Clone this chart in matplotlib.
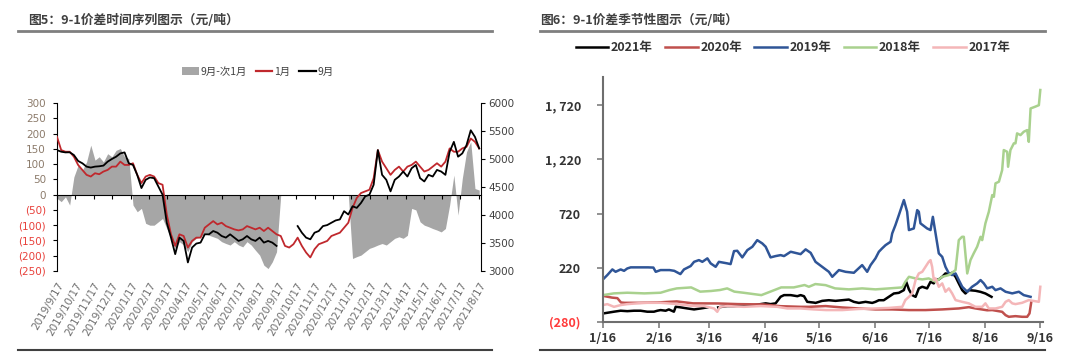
import numpy as np
import pandas as pd
import matplotlib
matplotlib.use("Agg")
import matplotlib.pyplot as plt
import matplotlib.dates as mdates
from matplotlib.lines import Line2D
from matplotlib.patches import Patch

nan = np.nan
CJK = "Noto Sans CJK SC"
NARROW = ["Liberation Sans Narrow", "DejaVu Sans"]
plt.rcParams["font.family"] = [CJK, "DejaVu Sans"]

# ---------------- Figure 5 data (weekly from 2019/9/17) ----------------
start_date = "2019-09-17"
spread_9_1 = [-12, -23, -7, -34, 58, 96, 80, 107, 162, 113,
              124, 107, 134, 124, 145, 151, 124, 118, -34, -56,
              -45, -94, -100, -100, -89, -78, -111, -143, -176, -154,
              -165, -187, -154, -143, -138, -127, -133, -138, -143, -154,
              -160, -165, -154, -165, -171, -154, -165, -182, -198, -231,
              -242, -220, -187, 0, 0, 0, 0, 0, 0, 0,
              0, 0, 0, 0, 0, 0, 0, 0, 0, 0,
              -209, -203, -198, -187, -176, -171, -165, -160, -165, -154,
              -143, -138, -143, -133, -45, -50, -89, -100, -105, -111,
              -116, -122, -111, -34, 64, -67, 53, 140, 173, 20, 15]
price_jan = [5395, 5159, 5130, 5130, 5041, 4894, 4805, 4717, 4687, 4746,
             4728, 4776, 4805, 4864, 4864, 4953, 4894, 4894, 4924, 4717,
             4570, 4687, 4717, 4687, 4570, 4540, 4009, 3655, 3448, 3655,
             3625, 3419, 3537, 3596, 3596, 3773, 3832, 3891, 3832, 3862,
             3802, 3773, 3743, 3725, 3743, 3802, 3773, 3743, 3773, 3714,
             3773, 3714, 3655, 3625, 3448, 3419, 3478, 3596, 3448, 3330,
             3242, 3389, 3478, 3507, 3537, 3625, 3655, 3684, 3773, 3862,
             4127, 4304, 4392, 4422, 4451, 4658, 5159, 4953, 4835, 4717,
             4805, 4864, 4776, 4864, 4894, 4953, 4864, 4776, 4805, 4864,
             4924, 4864, 4953, 5189, 5130, 5130, 5189, 5218, 5366, 5307, 5189]
price_sep = [5159, 5130, 5118, 5120, 5071, 4965, 4924, 4864, 4847, 4864,
             4870, 4882, 4953, 5000, 5041, 5100, 5118, 4924, 4894, 4717,
             4481, 4628, 4670, 4658, 4510, 4363, 3862, 3596, 3301, 3596,
             3537, 3153, 3419, 3490, 3507, 3655, 3655, 3714, 3684, 3625,
             3596, 3655, 3596, 3537, 3566, 3625, 3566, 3537, 3596, 3507,
             3537, 3507, 3448, nan, nan, nan, nan, 3802, 3684, 3596,
             3566, 3684, 3714, 3802, 3820, 3862, 3903, 3921, 4068, 4009,
             4156, 4127, 4215, 4333, 4363, 4540, 5159, 4717, 4628, 4422,
             4628, 4687, 4776, 4687, 4835, 4894, 4658, 4599, 4717, 4687,
             4805, 4776, 4717, 5129, 5306, 5041, 5100, 5248, 5513, 5395, 5189]
legend5 = ["9月-次1月", "1月", "9月"]

# ---------------- Figure 6 data (days after 1/16) ----------------
d2021 = [0.2, 2.4, 6.1, 9.8, 13.5, 17.2, 20.9, 24.6, 28.3, 30.2,
         32, 34.8, 36.6, 39.4, 40.4, 43.1, 46.9, 50.6, 54.3, 58,
         60, 64, 69, 72.8, 78.3, 83.9, 87.6, 90.4, 93.1, 95.9,
         98.7, 100.6, 104.3, 108, 109.8, 111.7, 113.5, 117.2, 118.1, 121.8,
         125.5, 129.2, 132.9, 136.6, 139.4, 142.2, 145.9, 149.6, 151.4, 153.3,
         156, 158.8, 161.6, 164.4, 167.2, 168.5, 170, 171.8, 173.7, 175.5,
         177.4, 180.1, 182, 183.8, 184.8, 186.6, 188.5, 190.3, 192.2, 194,
         195.9, 197.7, 199.6, 201.4, 203.3, 207, 209.8, 212.5, 215.9]
v2021 = [-201, -195, -185, -176, -180, -176, -176, -185, -185, -176,
         -170, -176, -164, -185, -139, -145, -155, -164, -155, -145,
         nan, -145, -133, -133, -127, -124, -115, -108, -115, -108,
         -47, -32, -32, -42, -32, -42, -94, -101, -104, -85,
         -79, -85, -79, -73, -94, -104, -94, -104, -94, -79,
         -79, -48, -17, -11, 14, 91, 20, -32, -48, 30,
         45, 30, 91, 76, 107, 113, 137, 168, 162, 174,
         137, 76, 14, -17, 14, 8, -2, -17, -48]
d2020 = [1, 5, 8, 10, 12, 20, 30, 41, 50, 64,
         75, 89, 98.5, 110, 114.4, 123.7, 133, 142.2, 151.4, 160.7,
         170, 179.2, 188.5, 197.7, 203.3, 207, 213.5, 216.3, 221.8, 223.7,
         225.5, 229.2, 232.9, 235.7, 237, 238]
v2020 = [-42, -55, -60, -100, -103, -103, -100, -90, -108, -109,
         -115, -118, -134, -140, -140, -133, -146, -155, -164, -164,
         -170, -170, -164, -155, -143, -155, -172, -170, -186, -217,
         -232, -226, -232, -232, -201, -94]
d2019 = [0, 2.4, 5.2, 7, 9.8, 11.7, 13.5, 15.4, 20, 25,
         28, 29.3, 32, 37, 39.6, 43, 45, 48.7, 50.6, 53.3,
         55.2, 58, 59.8, 62.6, 64.4, 69, 70.9, 72.8, 74.6, 77.4,
         80.2, 83, 85.7, 88.5, 90.4, 93.1, 95.9, 98.7, 100.6, 104.3,
         109.8, 112.6, 115.4, 118.1, 121.8, 125.5, 127.4, 131.1, 134.8, 139.4,
         144, 146.8, 148.7, 151.4, 153.3, 155.1, 157, 159.8, 160.7, 162.5,
         164.4, 167.2, 169, 170, 172.7, 174.6, 175.5, 176.4, 180.1, 182,
         183.3, 184.8, 186.6, 188.5, 190.3, 192.2, 194, 195.9, 197.7, 199.6,
         202.4, 205.1, 207.9, 209.8, 211.6, 213.5, 216.3, 218.1, 220.9, 223.7,
         227.4, 231.1, 233.8, 237.6]
v2019 = [113, 153, 205, 183, 205, 192, 214, 224, 224, 224,
         222, 183, 199, 199, 192, 162, 205, 236, 275, 291,
         275, 307, 261, 229, 275, 261, 254, 374, 377, 316,
         383, 414, 475, 445, 414, 316, 328, 337, 328, 368,
         346, 390, 358, 275, 229, 183, 137, 199, 183, 174,
         245, 183, 245, 307, 368, 399, 429, 460, 537, 614,
         706, 845, 737, 568, 583, 752, 737, 630, 583, 568,
         690, 537, 353, 321, 229, 168, 153, 168, 107, 45,
         -1, 45, 76, 107, 76, 30, 45, 14, 30, -1,
         -16, -1, -32, -48]
d2018 = [0, 6, 13.5, 23, 32, 37, 41, 49, 54, 60,
         65, 69, 73, 78, 88, 93, 99, 106, 112, 114.4,
         118, 123.7, 129, 136.6, 144, 151.4, 159, 166.3, 168, 170,
         173.7, 177.4, 181, 184.8, 188.5, 192.2, 195.9, 197.7, 199.5, 200.5,
         202.4, 204.2, 206, 207.9, 209.8, 210.7, 212.5, 214.4, 216.3, 217.2,
         218.1, 220, 221.8, 222.7, 224.6, 225.1, 226.4, 228.3, 229.2, 230.1,
         232, 233.8, 235.7, 236.6, 237.6, 240, 242.2, 243]
v2018 = [-32, -16, -10, -16, -10, 15, 30, 39, 0, 6,
         15, 30, 0, -10, -32, 0, 39, 39, 61, 45,
         70, 60, 30, 21, 30, 21, 30, 39, 91, 137,
         122, 113, 122, 91, 137, 153, 199, 475, 506, 506,
         168, 291, 353, 414, 506, 475, 630, 737, 891, 875,
         999, 1014, 1121, 1306, 1290, 1152, 1306, 1368, 1368, 1460,
         1444, 1475, 1490, 1382, 1690, 1705, 1720, 1860]
d2017 = [0, 2.4, 6.1, 9.8, 13.5, 19, 24.6, 32, 41.3, 50.6,
         56.1, 61.7, 63.5, 65, 69, 78.3, 87.6, 96.9, 102.4, 109.8,
         117.2, 124, 133, 142, 151.4, 159, 166.3, 168, 170, 171.8,
         173.7, 175.5, 177.4, 179.2, 181, 182, 182.9, 183.8, 184.8, 186.6,
         188.5, 190.3, 192.2, 194, 195.9, 199.6, 203.3, 207, 210.7, 212.5,
         214.4, 218.1, 221.8, 223.7, 225.5, 227.4, 229.2, 232.9, 236.6, 242.2,
         243]
v2017 = [-124, -115, -140, -124, -115, -108, -103, -103, -115, -133,
         -133, -155, -186, -140, -133, -140, -133, -140, -155, -155,
         -164, -170, -170, -160, -155, -150, -140, -78, -48, -16,
         107, 168, 183, 229, 275, 291, 229, 107, 122, 45,
         76, -1, 30, -16, -78, -94, -108, -140, -140, -108,
         -155, -155, -140, -94, -78, -108, -115, -103, -78, -94,
         45]
years6 = ["2021年", "2020年", "2019年", "2018年", "2017年"]
colors6 = ["#000000", "#c0504d", "#2f5597", "#a9d18e", "#f4b6b8"]

W, H = 1080, 352
fig = plt.figure(figsize=(W / 100, H / 100), dpi=100)


def box(x0, y0, x1, y1):
    return [x0 / W, 1 - y1 / H, (x1 - x0) / W, (y1 - y0) / H]


# ================= Figure 5 =================
ax1 = fig.add_axes(box(57, 103, 481, 271))
dates = pd.date_range(start_date, periods=len(spread_9_1), freq="7D")
x = mdates.date2num(dates)
ax1.fill_between(x, 0, spread_9_1, color="#a6a6a6", lw=0)
ax1.set_ylim(-250, 300)
ax1.set_xlim(x[0], mdates.date2num(pd.Timestamp("2021-08-20")))
ax2 = ax1.twinx()
ax2.plot(x, price_jan, color="#c0282d", lw=1.3)
ax2.plot(x, price_sep, color="#000000", lw=1.3)
ax2.set_ylim(3000, 6000)

tick_dates = pd.date_range("2019-09-17", "2021-08-17", freq=pd.DateOffset(months=1))
tick_x = mdates.date2num(tick_dates)
tick_lbl = [f"{d.year}/{d.month}/{d.day}" for d in tick_dates]
ax1.set_xticks(tick_x)
ax1.set_xticklabels([])
ax1.spines["bottom"].set_position(("data", 0))
ax1.spines["bottom"].set_linewidth(0.8)
ax1.spines["left"].set_linewidth(0.8)
ax1.spines["top"].set_visible(False)
ax1.spines["right"].set_visible(False)
ax1.tick_params(axis="x", direction="out", length=3, width=0.8)
sec = ax1.secondary_xaxis(0)
sec.set_xticks(tick_x)
sec.set_xticklabels(tick_lbl, rotation=60, ha="right", va="top",
                    rotation_mode="anchor", fontsize=7.5, color="#6e6e6e",
                    family=NARROW)
sec.tick_params(length=0, pad=7)
sec.spines["bottom"].set_visible(False)

yt = list(range(-250, 301, 50))
ax1.set_yticks(yt)
ax1.set_yticklabels([f"({-v})" if v < 0 else f"{v}" for v in yt])
ax1.tick_params(axis="y", direction="out", length=3, width=0.8, pad=5,
                labelsize=7.5, labelfontfamily=NARROW)
for lbl, v in zip(ax1.get_yticklabels(), yt):
    lbl.set_color("#e8403a" if v < 0 else "#8c7b6b")

ax2.set_yticks(range(3000, 6001, 500))
ax2.tick_params(axis="y", direction="out", length=3, width=0.8, pad=2,
                labelsize=7.5, labelcolor="#404040", labelfontfamily=NARROW)
for s in ["top", "left", "bottom"]:
    ax2.spines[s].set_visible(False)
ax2.spines["right"].set_linewidth(0.8)

h5 = [Patch(facecolor="#a6a6a6", edgecolor="none"),
      Line2D([], [], color="#c0282d", lw=1.6),
      Line2D([], [], color="#000000", lw=1.6)]
fig.legend(h5, legend5, loc="center", bbox_to_anchor=(258 / W, 1 - 72 / H),
           ncol=3, frameon=False, fontsize=7.5, handlelength=1.6,
           handleheight=0.8, columnspacing=0.8, handletextpad=0.2,
           labelcolor="#404040")

# ================= Figure 6 =================
ax3 = fig.add_axes(box(603, 77, 1043, 322))
series = [(d2021, v2021), (d2020, v2020), (d2019, v2019), (d2018, v2018), (d2017, v2017)]
for (dd, vv), c in zip(series, colors6):
    ax3.plot(dd, vv, color=c, lw=1.8, solid_joinstyle="round")
ax3.set_xlim(0, 244.5)
ax3.set_ylim(-280, 1980)
base = pd.Timestamp("2021-01-16")
m_x = [(pd.Timestamp(2021, m, 16) - base).days for m in range(1, 10)]
ax3.set_xticks(m_x)
ax3.set_xticklabels([f"{m}/16" for m in range(1, 10)])
yt6 = [-280, 220, 720, 1220, 1720]
ax3.set_yticks(yt6)
ax3.set_yticklabels([f"({-v})" if v < 0 else f"{v:,}".replace(",", ", ") for v in yt6])
ax3.tick_params(axis="x", direction="out", length=4, width=1.2, color="#7f7f7f",
                labelsize=9, labelcolor="#333333", pad=3)
ax3.tick_params(axis="y", direction="out", length=4, width=1.2, color="#7f7f7f",
                labelsize=9, labelcolor="#333333", pad=12)
for lbl in ax3.get_xticklabels() + ax3.get_yticklabels():
    lbl.set_fontweight("bold")
ax3.get_yticklabels()[0].set_color("#ff3b3b")
for s in ["top", "right"]:
    ax3.spines[s].set_visible(False)
for s in ["left", "bottom"]:
    ax3.spines[s].set_color("#6e6e6e")
    ax3.spines[s].set_linewidth(1.5)

h6 = [Line2D([], [], color=c, lw=1.8) for c in colors6]
fig.legend(h6, years6, loc="center", bbox_to_anchor=(793 / W, 1 - 48 / H),
           ncol=5, frameon=False, handlelength=2.6,
           columnspacing=1.0, handletextpad=0.2, labelcolor="#333333",
           prop={"weight": "bold", "size": 9})

# ================= titles and frame lines =================
fig.text(28 / W, 1 - 20 / H, "图5：9-1价差时间序列图示（元/吨）", fontsize=9.2,
         fontweight="bold", color="#404040", ha="left", va="center")
fig.text(540 / W, 1 - 20 / H, "图6：9-1价差季节性图示（元/吨）", fontsize=9.2,
         fontweight="bold", color="#404040", ha="left", va="center")
for xa, xb in [(18, 492), (540, 1045)]:
    fig.add_artist(Line2D([xa / W, xb / W], [1 - 31 / H] * 2, color="#7f7f7f", lw=2))
    fig.add_artist(Line2D([xa / W, xb / W], [1 - 350 / H] * 2, color="#404040", lw=1.5))

fig.savefig("out.png", dpi=100)
